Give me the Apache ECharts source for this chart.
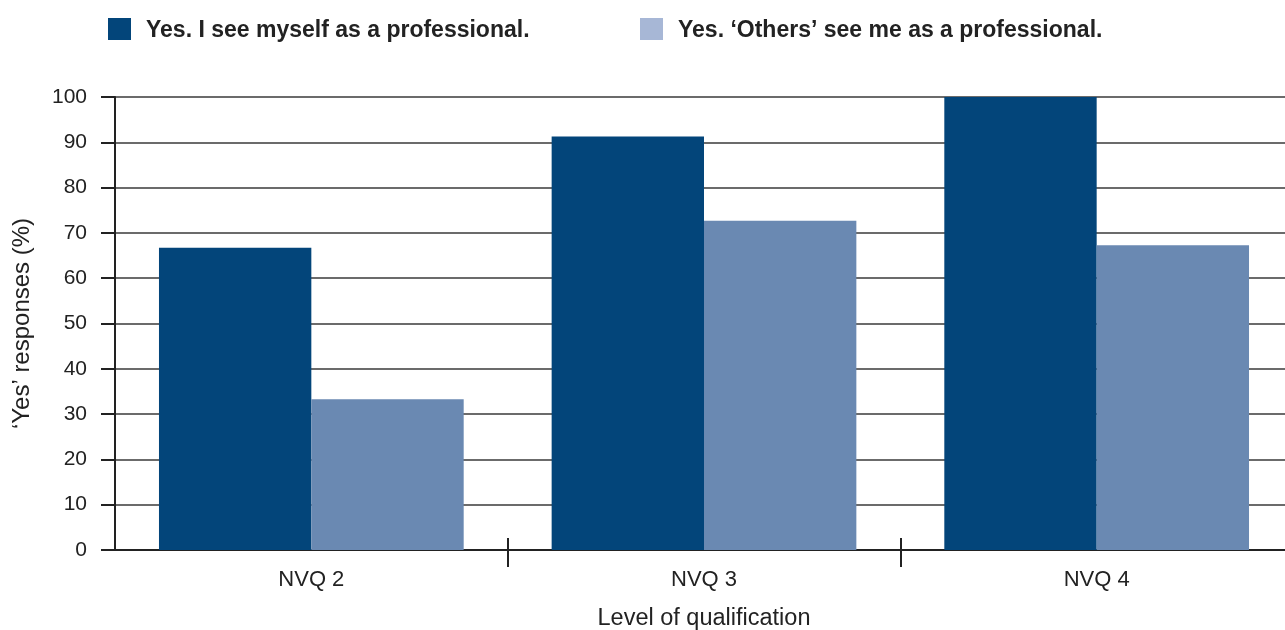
<!DOCTYPE html>
<html>
<head>
<meta charset="utf-8">
<script src="https://cdn.jsdelivr.net/npm/echarts@6/dist/echarts.min.js"></script>
<style>html,body{margin:0;padding:0;background:#fff;}#c{width:1285px;height:630px;}</style>
</head>
<body>
<div id="c"></div>
<script>
const categories = ['NVQ 2', 'NVQ 3', 'NVQ 4'];
const selfValues = [66.7, 91.3, 100];
const othersValues = [33.3, 72.7, 67.3];
const seriesNames = ['Yes. I see myself as a professional.', 'Yes. \u2018Others\u2019 see me as a professional.'];
const yTicks = [0, 10, 20, 30, 40, 50, 60, 70, 80, 90, 100];

const FONT = '"Liberation Sans", Arial, sans-serif';
const DARK = '#03457a';
const LIGHT = '#6a89b2';
const LIGHT_LEGEND = '#a7b7d6';

const chart = echarts.init(document.getElementById('c'), null, {renderer: 'canvas'});
const legendText = {
  fontFamily: FONT, fontSize: 23, fontWeight: 'bold', color: '#222',
  rich: {t: {fontFamily: FONT, fontSize: 23, fontWeight: 'bold', color: '#222', padding: [3, 0, 0, 10]}}
};
const legendFmt = function (name) { return '{t|' + name + '}'; };
chart.setOption({
  animation: false,
  backgroundColor: '#fff',
  legend: [
    {data: [{name: seriesNames[0], itemStyle: {color: DARK}}], left: 108, top: 18, padding: 0, icon: 'rect', itemWidth: 23, itemHeight: 22, textStyle: legendText, formatter: legendFmt},
    {data: [{name: seriesNames[1], itemStyle: {color: LIGHT_LEGEND}}], left: 640, top: 18, padding: 0, icon: 'rect', itemWidth: 23, itemHeight: 22, textStyle: legendText, formatter: legendFmt}
  ],
  grid: {left: 115, top: 97, width: 1178, height: 453, containLabel: false, outerBoundsMode: 'none'},
  xAxis: [
    {
      type: 'category', data: categories, position: 'bottom',
      axisLine: {show: true, lineStyle: {color: '#222', width: 2}},
      axisTick: {show: true, length: 17, inside: false, interval: function (i) { return i !== 0; }, lineStyle: {color: '#222', width: 2}},
      axisLabel: {fontFamily: FONT, fontSize: 22, color: '#222', margin: 19},
      name: 'Level of qualification', nameLocation: 'middle', nameGap: 57,
      nameTextStyle: {fontFamily: FONT, fontSize: 23.5, color: '#222'}
    },
    {
      type: 'category', data: categories, position: 'bottom',
      axisLine: {show: false},
      axisTick: {show: true, length: 12, inside: true, interval: function (i) { return i !== 0; }, lineStyle: {color: '#222', width: 2}},
      axisLabel: {show: false}
    }
  ],
  yAxis: {
    type: 'value', min: 0, max: 100, interval: 10,
    axisLine: {show: true, lineStyle: {color: '#222', width: 2}},
    axisTick: {show: true, length: 14, lineStyle: {color: '#222', width: 2}},
    axisLabel: {fontFamily: FONT, fontSize: 21, color: '#222', margin: 28,
      formatter: function (v) { return yTicks.indexOf(v) >= 0 ? String(v) : ''; }},
    splitLine: {show: true, lineStyle: {color: '#3a3a3a', width: 1.5}},
    name: '\u2018Yes\u2019 responses (%)', nameLocation: 'middle', nameGap: 81, nameRotate: 90,
    nameTextStyle: {fontFamily: FONT, fontSize: 24, color: '#222'}
  },
  series: [
    {name: seriesNames[0], type: 'bar', data: selfValues, itemStyle: {color: DARK}, barGap: '0%', barCategoryGap: '22.4%', xAxisIndex: 0},
    {name: seriesNames[1], type: 'bar', data: othersValues, itemStyle: {color: LIGHT}, barGap: '0%', barCategoryGap: '22.4%', xAxisIndex: 0}
  ]
});
</script>
</body>
</html>
